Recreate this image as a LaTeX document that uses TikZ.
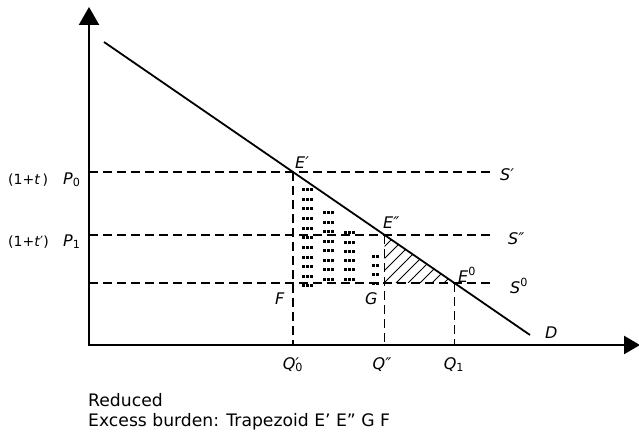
\documentclass[tikz,border=0pt]{standalone}
\usepackage{fontspec}
\setmainfont{DejaVu Sans}
\usetikzlibrary{arrows.meta}
\newcommand\sub[1]{\textsubscript{\upshape #1}}
\newcommand\sups[1]{\textsuperscript{\upshape #1}}
\newcommand\pr{\symbol{"2032}}
\newcommand\dpr{\symbol{"2033}}
\newcommand\sq{\char"0027\relax}
\newcommand\dq{\char"0022\relax}
\tikzset{
  axis/.style={line width=2.4pt},
  demand/.style={line width=1.8pt},
  guide/.style={line width=1.2pt, dash pattern=on 9pt off 5pt},
  hatch/.style={line width=0.8pt},
  lab/.style={inner sep=0pt, anchor=base west, font=\fontsize{16}{18}\selectfont\itshape},
  labc/.style={inner sep=0pt, anchor=base, font=\fontsize{16}{18}\selectfont\itshape},
  note/.style={inner sep=0pt, anchor=base west, font=\fontsize{17.2}{20}\selectfont},
  dotmark/.style={fill=black}
}
\begin{document}
\begin{tikzpicture}[x=1pt,y=-1pt]
\useasboundingbox (0,0) rectangle (639,436);
% key coordinates
\coordinate (O) at (89,345);
\coordinate (Ytop) at (89,7);
\coordinate (Xend) at (640,345);
\coordinate (Dstart) at (104,42);
\coordinate (Dend) at (530,335);
\coordinate (P0) at (89,172);
\coordinate (P1) at (89,235);
\coordinate (P2) at (89,283);
\coordinate (E1) at (293,172);
\coordinate (E2) at (384.6,235);
\coordinate (E0) at (454.4,283);
\coordinate (S1) at (494,172);
\coordinate (S2) at (494,235);
\coordinate (S0) at (494,283);
\coordinate (Q0) at (293,345);
\coordinate (Q2) at (384.6,345);
\coordinate (Q1) at (454.4,345);
\coordinate (Gc) at (384.6,283);

% hatched triangle
\begin{scope}
  \clip (E2) -- (Gc) -- (E0) -- cycle;
  \foreach \a in {324,336,...,468}
    \draw[hatch] (\a,283) -- (\a+60,223);
\end{scope}

% dotted marks
\foreach \y in {189,199,208,218,228,237,247,257,266,276,285}
  \foreach \x in {302,306,310}
    \fill[dotmark] (\x,\y-1.5) rectangle ++(3,3);
\foreach \y in {212,222,231,241,250,260,269,279}
  \foreach \x in {323,327,331}
    \fill[dotmark] (\x,\y-1.5) rectangle ++(3,3);
\foreach \y in {232,242,251,260,269,279}
  \foreach \x in {344,348,352}
    \fill[dotmark] (\x,\y-1.5) rectangle ++(3,3);
\foreach \y in {256,265,274,283}
  \foreach \x in {371.5,375.5}
    \fill[dotmark] (\x,\y-1.5) rectangle ++(3,3);

% guide lines
\draw[guide] (P0) -- (S1);
\draw[guide] (P1) -- (S2);
\draw[guide] (P2) -- (S0);
\draw[guide] (E1) -- (Q0);
\draw[guide] (E2) -- (Q2);
\draw[guide] (E0) -- (Q1);

% demand
\draw[demand] (Dstart) -- (Dend);

% axes
\draw[axis, {Triangle[width=20pt,length=18pt]}-{Triangle[width=18pt,length=16pt]}] (Ytop) -- (O) -- (Xend);

% labels
\node[lab, font=\fontsize{14}{16}\selectfont] (tl0) at (8,184) {(1+\textit{t}\,)};
\node[lab] (lp0) at (63,184) {P\sub{0}};
\node[lab, font=\fontsize{14}{16}\selectfont] (tl1) at (8,246) {(1+\textit{t}\pr)};
\node[lab] (lp1) at (63,246) {P\sub{1}};
\node[lab] (le1) at (295,168) {E\pr};
\node[lab] (le2) at (383,228) {E\dpr};
\node[lab] (le0) at (458,282) {E\sups{0}};
\node[lab] (ls1) at (500,180) {S\pr};
\node[lab] (ls2) at (508,244) {S\dpr};
\node[lab] (ls0) at (510,293) {S\sups{0}};
\node[lab] (lf) at (275,304) {F};
\node[lab] (lg) at (365,304) {G};
\node[lab] (ld) at (545,338) {D};
\node[labc] (lq0) at (291,369) {Q\rlap{\sub{0}}\pr};
\node[labc] (lq2) at (382,369) {Q\dpr};
\node[labc] (lq1) at (454,369) {Q\sub{1}};

\node[note] (n1) at (88,406) {Reduced};
\node[note] (n2) at (88,426) {Excess burden: Trapezoid E\sq{} E\dq{} G F};
\end{tikzpicture}
\end{document}
